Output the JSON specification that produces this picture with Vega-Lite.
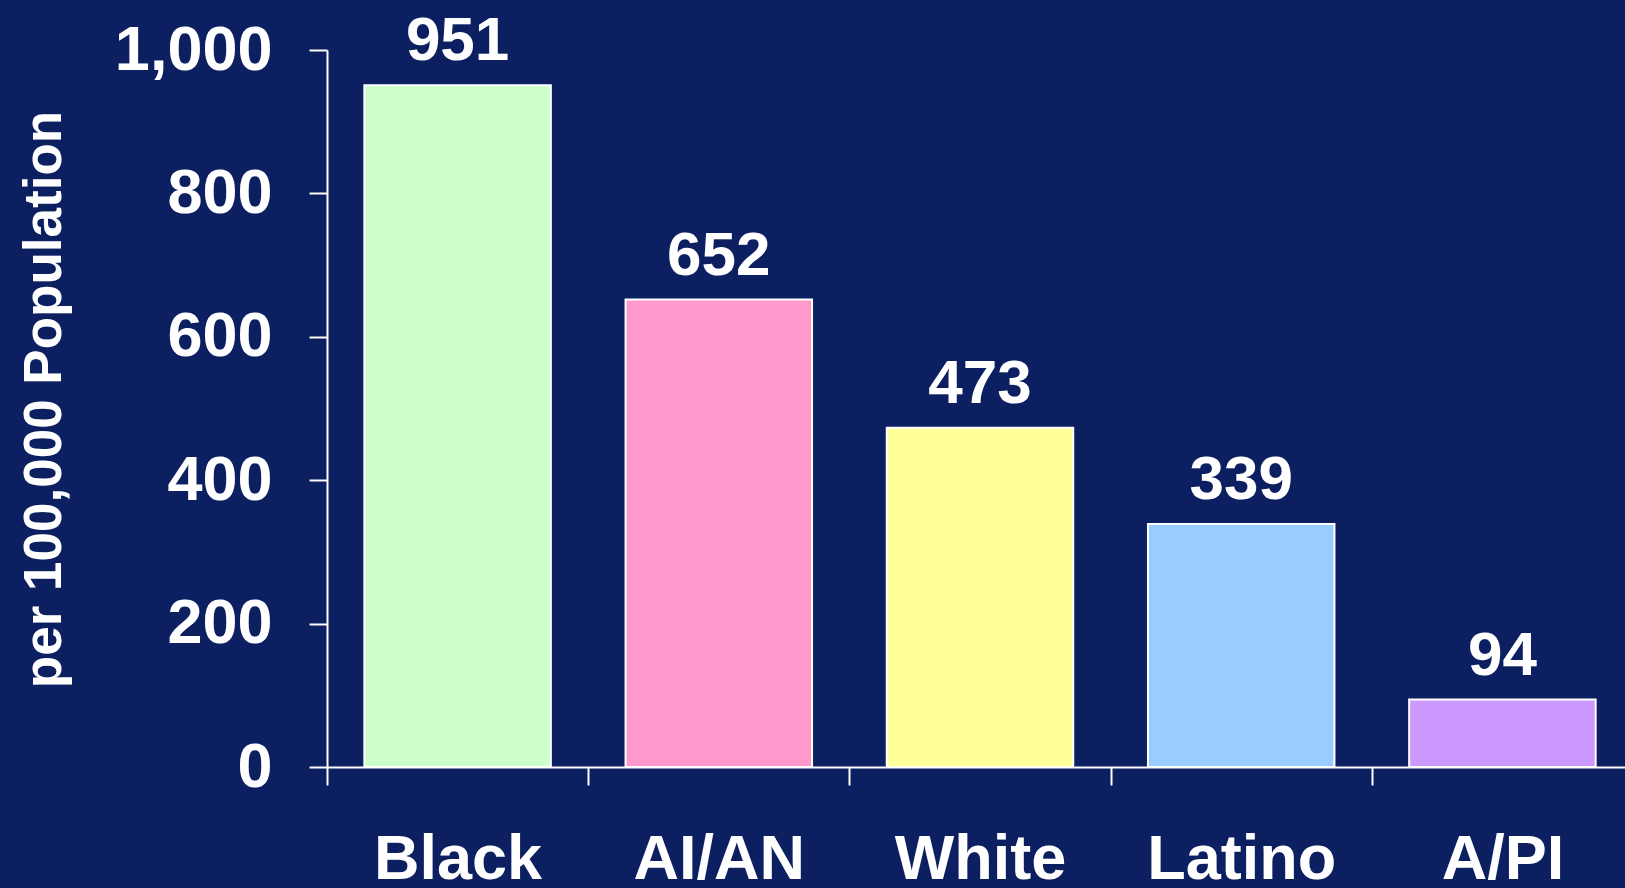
{
  "$schema": "https://vega.github.io/schema/vega-lite/v6.json",
  "autosize": "none",
  "padding": {"left": 327, "top": 50, "right": 0, "bottom": 121},
  "width": 1298,
  "height": 717,
  "background": "#0B1F61",
  "config": {
    "view": {"stroke": null},
    "font": "Liberation Sans"
  },
  "data": {
    "values": [
      {"group": "Black", "rate": 951},
      {"group": "AI/AN", "rate": 652},
      {"group": "White", "rate": 473},
      {"group": "Latino", "rate": 339},
      {"group": "A/PI", "rate": 94}
    ]
  },
  "encoding": {
    "x": {
      "field": "group",
      "type": "nominal",
      "sort": null,
      "scale": {"range": [0, 1306], "paddingInner": 0, "paddingOuter": 0},
      "axis": {
        "title": null,
        "labelAngle": 0,
        "labelLimit": 500,
        "labelFont": "Liberation Sans",
        "labelFontSize": 63,
        "labelFontWeight": "bold",
        "labelColor": "white",
        "labelPadding": 43,
        "labelBaseline": "top",
        "tickBand": "extent",
        "tickSize": 18,
        "tickWidth": 2,
        "tickColor": "white",
        "domainColor": "white",
        "domainWidth": 2
      }
    },
    "y": {
      "field": "rate",
      "type": "quantitative",
      "scale": {"domain": [0, 1000], "nice": false},
      "axis": {
        "title": "per 100,000 Population",
        "titleFont": "Liberation Sans",
        "titleFontSize": 53,
        "titleFontWeight": "bold",
        "titleColor": "white",
        "titlePadding": 56,
        "titleY": 349,
        "values": [0, 200, 400, 600, 800, 1000],
        "format": ",d",
        "grid": false,
        "labelFont": "Liberation Sans",
        "labelFontSize": 63,
        "labelFontWeight": "bold",
        "labelColor": "white",
        "labelPadding": 37,
        "tickSize": 18,
        "tickWidth": 2,
        "tickColor": "white",
        "domainColor": "white",
        "domainWidth": 2
      }
    }
  },
  "layer": [
    {
      "mark": {"type": "bar", "stroke": "white", "strokeWidth": 2, "width": {"band": 0.714}},
      "encoding": {
        "color": {
          "field": "group",
          "type": "nominal",
          "scale": {
            "domain": ["Black", "AI/AN", "White", "Latino", "A/PI"],
            "range": ["#CCFFCC", "#FF99CC", "#FFFF99", "#99CCFF", "#CC99FF"]
          },
          "legend": null
        }
      }
    },
    {
      "mark": {
        "type": "text",
        "dy": -25,
        "baseline": "alphabetic",
        "font": "Liberation Sans",
        "fontSize": 62,
        "fontWeight": "bold",
        "color": "white"
      },
      "encoding": {
        "text": {"field": "rate", "type": "quantitative"}
      }
    }
  ]
}
